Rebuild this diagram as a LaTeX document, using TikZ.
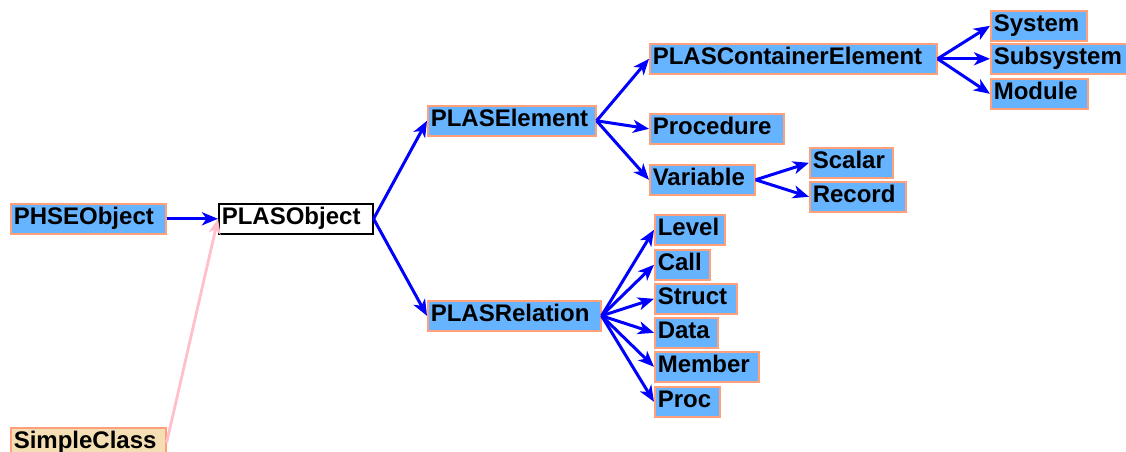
\documentclass[tikz,border=0pt]{standalone}
\usepackage{fontspec}
\setmainfont{Liberation Sans}
\usetikzlibrary{arrows.meta}
\definecolor{boxfill}{RGB}{102,179,255}
\definecolor{boxline}{RGB}{255,160,122}
\definecolor{wheatfill}{RGB}{245,222,179}
\definecolor{pinkline}{RGB}{255,192,203}
\begin{document}
\begin{tikzpicture}[x=1pt,y=-1pt,
  cls/.style={draw=boxline, fill=boxfill, line width=1.6pt, anchor=north west,
    inner xsep=3pt, inner ysep=3.5pt, text height=17.5pt, text depth=5.5pt,
    align=left, font=\fontsize{24}{28}\selectfont\bfseries},
  rootcls/.style={cls, draw=black, fill=white},
  simplecls/.style={cls, fill=wheatfill},
  inh/.style={draw=blue, line width=3pt, -{Stealth[length=16pt,width=13pt,inset=4.5pt]}},
  pinkinh/.style={draw=pinkline, line width=2.8pt, -{Stealth[length=15pt,width=12pt,inset=4pt]}},
]
\useasboundingbox (0,0) rectangle (1126,452);

\node[cls, text width=149pt] (phse) at (10,203) {PHSEObject};
\node[rootcls, text width=148pt] (plasobj) at (218,203) {PLASObject};
\node[simplecls, text width=149pt] (simple) at (10,427) {SimpleClass};

\node[cls, text width=162pt] (elem) at (427,105) {PLASElement};
\node[cls, text width=167pt] (rel) at (427,300) {PLASRelation};

\node[cls, text width=281pt] (cont) at (649,43) {PLASContainerElement};
\node[cls, text width=128pt] (proc) at (649,113) {Procedure};
\node[cls, text width=99pt] (var) at (649,164) {Variable};

\node[cls, text width=77pt] (scalar) at (809,147) {Scalar};
\node[cls, text width=90pt] (record) at (809,181) {Record};

\node[cls, text width=90pt] (system) at (990,10) {System};
\node[cls, text width=130pt] (subsys) at (990,43) {Subsystem};
\node[cls, text width=91pt] (module) at (990,78) {Module};

\node[cls, text width=64pt] (level) at (654,214) {Level};
\node[cls, text width=49pt] (call) at (654,249) {Call};
\node[cls, text width=76pt] (struct) at (654,283) {Struct};
\node[cls, text width=57pt] (data) at (654,317) {Data};
\node[cls, text width=98pt] (member) at (654,351) {Member};
\node[cls, text width=59pt] (procn) at (654,386) {Proc};

\draw[inh] (phse.east) -- (plasobj.west);
\draw[pinkinh] (simple.east) -- (plasobj.west);

\draw[inh] (plasobj.east) -- (elem.west);
\draw[inh] (plasobj.east) -- (rel.west);

\draw[inh] (elem.east) -- (cont.west);
\draw[inh] (elem.east) -- (proc.west);
\draw[inh] (elem.east) -- (var.west);

\draw[inh] (var.east) -- (scalar.west);
\draw[inh] (var.east) -- (record.west);

\draw[inh] (cont.east) -- (system.west);
\draw[inh] (cont.east) -- (subsys.west);
\draw[inh] (cont.east) -- (module.west);

\draw[inh] (rel.east) -- (level.west);
\draw[inh] (rel.east) -- (call.west);
\draw[inh] (rel.east) -- (struct.west);
\draw[inh] (rel.east) -- (data.west);
\draw[inh] (rel.east) -- (member.west);
\draw[inh] (rel.east) -- (procn.west);
\end{tikzpicture}
\end{document}
